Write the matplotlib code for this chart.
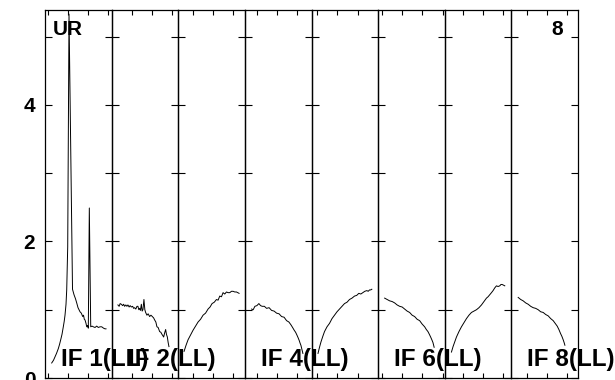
import matplotlib
matplotlib.use("Agg")
import matplotlib.pyplot as plt

# spectra per IF: channel offset within the panel, amplitude
if1_x = [6.7, 8.5, 10.0, 11.5, 13.3, 14.5, 15.7, 17.0, 18.3, 19.2,
         20.0, 21.0, 21.7, 22.7, 24.0, 27.5, 29.0, 30.5, 31.7, 33.0,
         34.0, 35.0, 36.3, 37.7, 38.5, 39.3, 40.0, 41.0, 41.7, 42.5,
         43.3, 44.3, 45.7, 47.0, 48.3, 50.0, 51.7, 53.3, 55.0, 56.7,
         58.5, 60.0, 61.0]
if1_y = [0.22, 0.26, 0.31, 0.36, 0.43, 0.49, 0.56, 0.64, 0.75, 0.83,
         0.92, 1.08, 1.29, 1.92, 5.33, 1.30, 1.22, 1.16, 1.10, 1.03,
         1.00, 0.97, 0.95, 0.90, 0.92, 0.86, 0.85, 0.80, 0.75, 0.77,
         0.73, 2.49, 0.75, 0.76, 0.75, 0.74, 0.76, 0.74, 0.75, 0.75,
         0.73, 0.72, 0.72]
if2_x = [6.3, 7.5, 8.5, 9.7, 11.0, 12.0, 13.0, 14.2, 15.3, 16.3,
         17.5, 18.5, 19.7, 21.0, 22.0, 23.0, 24.2, 25.3, 26.3, 27.2,
         28.0, 28.8, 29.7, 30.5, 31.3, 32.3, 33.2, 34.0, 35.3, 36.5,
         38.0, 39.3, 40.7, 42.0, 43.0, 44.2, 45.3, 46.5, 48.0, 49.2,
         50.3, 51.2, 52.0, 53.0, 54.0, 54.8, 55.7, 56.5, 57.3]
if2_y = [1.07, 1.05, 1.09, 1.08, 1.06, 1.08, 1.05, 1.07, 1.05, 1.07,
         1.04, 1.06, 1.04, 1.05, 1.02, 1.03, 1.01, 1.05, 1.05, 1.00,
         1.02, 0.99, 1.08, 0.98, 1.00, 1.15, 1.00, 0.96, 0.92, 0.94,
         0.90, 0.92, 0.90, 0.88, 0.85, 0.82, 0.75, 0.74, 0.68, 0.67,
         0.64, 0.62, 0.60, 0.66, 0.71, 0.64, 0.60, 0.52, 0.46]
if3_x = [5.8, 7.8, 9.8, 12.3, 14.8, 17.3, 19.8, 22.3, 24.8, 27.3,
         29.8, 31.8, 33.8, 36.0, 38.2, 39.8, 41.5, 43.2, 44.8, 46.5,
         48.2, 49.8, 51.5, 53.2, 54.8, 56.5, 58.2, 60.8]
if3_y = [0.39, 0.48, 0.56, 0.63, 0.70, 0.76, 0.82, 0.86, 0.92, 0.95,
         1.01, 1.04, 1.09, 1.11, 1.15, 1.14, 1.20, 1.19, 1.25, 1.23,
         1.26, 1.25, 1.25, 1.27, 1.27, 1.26, 1.26, 1.24]
if4_x = [6.7, 8.3, 10.0, 12.0, 14.0, 15.7, 17.3, 19.5, 21.7, 24.2,
         26.7, 29.2, 31.7, 34.2, 36.7, 39.2, 41.7, 44.0, 46.0, 47.7,
         49.3, 50.7, 52.0, 53.2, 54.3, 55.2, 56.0, 57.0, 58.0]
if4_y = [1.01, 1.00, 1.05, 1.06, 1.09, 1.06, 1.05, 1.05, 1.02, 1.03,
         0.99, 0.98, 0.95, 0.94, 0.90, 0.89, 0.84, 0.82, 0.78, 0.74,
         0.70, 0.67, 0.63, 0.59, 0.55, 0.51, 0.48, 0.42, 0.36]
if5_x = [6.5, 8.0, 9.5, 11.3, 13.0, 15.5, 18.0, 20.5, 23.0, 25.5,
         28.0, 30.5, 33.0, 35.5, 38.0, 40.5, 43.0, 45.2, 47.3, 49.3,
         51.3, 53.3, 55.3, 56.7, 58.0, 59.2, 60.3]
if5_y = [0.36, 0.45, 0.53, 0.61, 0.68, 0.75, 0.80, 0.87, 0.92, 0.97,
         1.01, 1.05, 1.09, 1.11, 1.15, 1.17, 1.20, 1.21, 1.24, 1.23,
         1.25, 1.27, 1.28, 1.27, 1.29, 1.29, 1.30]
if6_x = [6.5, 9.0, 11.5, 14.0, 16.5, 19.0, 21.5, 24.0, 26.5, 29.0,
         31.5, 34.0, 36.5, 39.0, 41.5, 44.0, 46.5, 48.2, 49.8, 51.2,
         52.5, 53.7, 54.8, 56.0]
if6_y = [1.17, 1.15, 1.13, 1.12, 1.10, 1.07, 1.05, 1.04, 1.01, 0.98,
         0.96, 0.92, 0.90, 0.86, 0.84, 0.79, 0.75, 0.71, 0.68, 0.64,
         0.60, 0.56, 0.52, 0.45]
if7_x = [6.7, 8.3, 10.0, 11.7, 14.2, 16.7, 19.2, 21.7, 24.2, 26.7,
         29.2, 31.7, 34.2, 36.7, 39.2, 41.7, 43.3, 45.0, 46.7, 48.3,
         50.0, 51.7, 53.3, 55.0, 56.2, 57.3, 58.7, 60.0]
if7_y = [0.38, 0.46, 0.53, 0.60, 0.68, 0.75, 0.81, 0.87, 0.92, 0.96,
         0.98, 1.00, 1.03, 1.07, 1.12, 1.17, 1.19, 1.22, 1.25, 1.28,
         1.32, 1.35, 1.34, 1.35, 1.37, 1.37, 1.36, 1.35]
if8_x = [6.8, 9.3, 11.8, 14.3, 16.8, 19.3, 21.8, 24.3, 26.8, 29.3,
         31.8, 34.3, 36.8, 39.3, 41.8, 43.8, 45.8, 47.5, 49.2, 50.5,
         51.8, 52.7, 53.5]
if8_y = [1.18, 1.15, 1.13, 1.10, 1.08, 1.05, 1.03, 1.02, 1.00, 0.97,
         0.96, 0.93, 0.91, 0.87, 0.84, 0.80, 0.76, 0.71, 0.65, 0.61,
         0.56, 0.52, 0.48]

spec_x = [if1_x, if2_x, if3_x, if4_x, if5_x, if6_x, if7_x, if8_x]
spec_y = [if1_y, if2_y, if3_y, if4_y, if5_y, if6_y, if7_y, if8_y]
if_labels = ["IF 1(LL)", "IF 2(LL)", None, "IF 4(LL)", None, "IF 6(LL)", None, "IF 8(LL)"]
ytick_major = [0, 2, 4]
ytick_minor = [1, 3, 5]

# x tick phase differs per IF (offsets in the same channel units)
xtick_pos = [[2.7, 22.7, 42.7, 62.7], [20, 40, 60], [15, 35, 55], [12, 32, 52],
             [5, 25, 46], [4, 24, 44, 65], [18, 38, 58], [16, 36, 56]]

bold = ["Liberation Sans", "DejaVu Sans"]

fig, axes = plt.subplots(1, 8, figsize=(6.15, 3.8), dpi=100, sharey=True)
fig.subplots_adjust(left=45/615, right=578/615, bottom=2/380, top=1-10/380, wspace=0)

for i, ax in enumerate(axes):
    ax.patch.set_visible(False)   # labels spill into the next panel
    ax.plot(spec_x[i], spec_y[i], color="k", lw=0.7)
    ax.set_xlim(0, 66.6)
    ax.set_ylim(0, 5.39)
    ax.set_xticks(xtick_pos[i])
    ax.set_yticks(ytick_major)
    ax.set_yticks(ytick_minor, minor=True)
    ax.tick_params(axis="x", which="both", direction="in", top=True, bottom=True,
                   length=3.6, width=0.8, labelbottom=False)
    ax.tick_params(axis="y", which="both", direction="in", left=True, right=True,
                   length=5, width=0.8, labelleft=(i == 0), pad=7)
    for sp in ax.spines.values():
        sp.set_linewidth(0.9)
    if if_labels[i]:
        ax.text(16, 0.18, if_labels[i], fontsize=17.5, fontweight="bold",
                family=bold, ha="left", va="baseline", clip_on=False, zorder=5)

for lab in axes[0].get_yticklabels():
    lab.set_fontsize(15)
    lab.set_fontweight("bold")
    lab.set_family(bold)

axes[0].text(8, 5.03, "UR", fontsize=15, fontweight="bold", family=bold,
             ha="left", va="baseline")
axes[-1].text(51.6, 5.03, "8", fontsize=15, fontweight="bold", family=bold,
              ha="right", va="baseline")

fig.savefig("out.png", dpi=100)
